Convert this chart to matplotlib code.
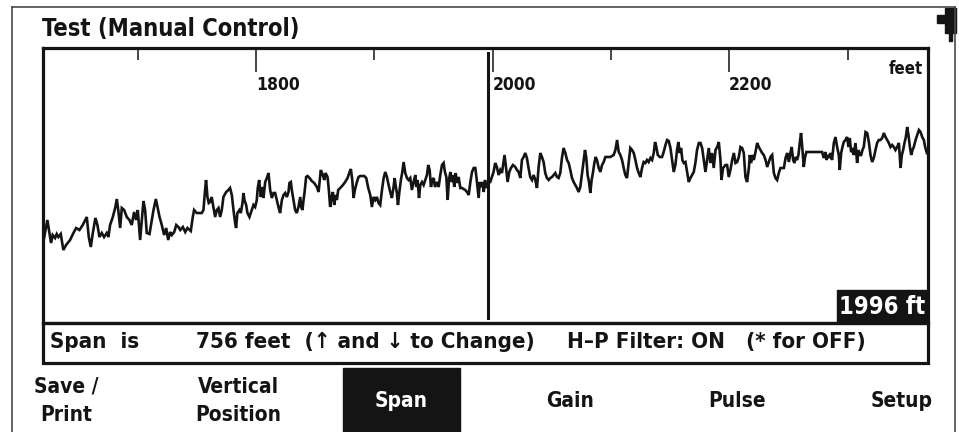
import matplotlib

matplotlib.use("Agg")
import matplotlib.pyplot as plt
from matplotlib import font_manager
from matplotlib.lines import Line2D
from matplotlib.patches import Polygon, Rectangle

W, H = 959, 432
INK = "#141414"

screen_title = "Test (Manual Control)"
major_ticks = [1800, 2000, 2200]
minor_ticks = [1700, 1900, 2100, 2300]
x_range = (1620, 2368)
y_range = (0, 275)
unit_label = "feet"
cursor_ft = 1996
cursor_label = "1996 ft"
status_parts = ["Span  is", "756 feet  (\u2191 and \u2193 to Change)", "H\u2013P Filter: ON   (* for OFF)"]
menu_labels = ["Save /\nPrint", "Vertical\nPosition", "Span", "Gain", "Pulse", "Setup"]
active_menu = "Span"

# trace: distance in feet, amplitude in screen units
trace_ft = [
    1620.9, 1623.7, 1625.4, 1626.8, 1628.2, 1630.2, 1631.6, 1633.0, 1635.0, 1636.1,
    1637.2, 1639.5, 1642.9, 1645.7, 1648.0, 1650.8, 1653.6, 1657.0, 1658.7, 1660.4,
    1662.1, 1664.3, 1666.0, 1667.7, 1669.7, 1671.6, 1673.9, 1675.3, 1676.7, 1679.0,
    1681.0, 1682.4, 1683.8, 1685.2, 1686.6, 1688.6, 1690.8, 1693.1, 1695.0, 1697.0,
    1698.7, 1700.1, 1702.1, 1703.5, 1704.9, 1706.3, 1707.7, 1710.0, 1712.0, 1713.4,
    1715.4, 1716.8, 1718.5, 1720.4, 1722.4, 1724.1, 1725.8, 1727.5, 1728.9, 1730.9,
    1732.6, 1734.5, 1736.0, 1738.2, 1740.2, 1742.1,
    1744.9, 1746.6, 1747.7, 1749.9, 1754.2, 1755.6, 1757.0, 1757.8, 1759.0, 1760.1,
    1761.2, 1762.6, 1764.0, 1765.5, 1766.9, 1768.3, 1769.7, 1771.1, 1772.5, 1774.8,
    1776.7, 1778.1, 1779.6, 1781.0, 1782.4, 1783.2, 1784.3, 1786.0, 1787.2, 1788.6,
    1789.4, 1790.3, 1791.7, 1792.8, 1794.5, 1796.5, 1797.9, 1799.3, 1800.7, 1801.5,
    1802.7, 1804.1, 1805.2, 1806.3, 1807.8, 1809.2, 1810.6, 1812.0, 1813.4, 1814.8,
    1816.2, 1817.6, 1819.0, 1820.4, 1821.9, 1823.3, 1824.7, 1826.1, 1827.5, 1828.3,
    1829.5, 1830.3, 1831.7, 1833.1, 1834.5, 1835.9, 1837.4, 1838.2, 1839.3, 1840.2,
    1841.0, 1842.4, 1843.6, 1845.3, 1847.2, 1849.2, 1851.5, 1852.9, 1853.7, 1854.8,
    1856.5, 1857.7, 1858.8, 1860.5, 1861.6, 1862.7, 1863.9, 1865.0, 1866.1, 1867.3,
    1868.4, 1869.5,
    1871.2, 1873.5, 1875.4, 1877.4, 1879.1, 1880.2, 1881.4, 1882.5, 1883.6, 1885.3,
    1886.7, 1888.1, 1891.5, 1893.2, 1894.9, 1896.6, 1898.0, 1899.4, 1900.8, 1902.2,
    1903.6, 1905.0, 1906.5, 1907.9, 1909.3, 1910.7, 1912.1, 1913.5, 1914.9, 1916.3,
    1917.2, 1918.0, 1919.1, 1920.0, 1921.4, 1922.5, 1923.7, 1924.8, 1926.2, 1927.6,
    1929.0, 1930.4, 1931.8, 1933.2, 1934.7, 1935.5, 1936.6, 1937.8, 1938.9, 1940.3,
    1941.7, 1943.1, 1944.5, 1945.6, 1946.8, 1947.9, 1949.0, 1950.2, 1951.3, 1953.0,
    1954.4, 1955.8, 1957.2, 1958.6, 1959.7, 1960.9, 1962.0, 1963.1, 1964.3, 1965.4,
    1966.5, 1967.6, 1968.8, 1969.9, 1971.3, 1972.7, 1974.1, 1976.9, 1978.4, 1979.8,
    1981.2, 1982.6, 1984.0, 1985.4, 1986.8, 1988.2, 1989.1, 1990.2, 1991.3, 1992.5,
    1993.6, 1994.7, 1996.4,
    1998.0, 1999.4, 2000.8, 2002.2, 2003.6, 2005.1, 2006.5, 2007.9, 2009.3, 2010.1,
    2011.3, 2012.7, 2014.1, 2015.5, 2017.2, 2019.2, 2020.6, 2022.0, 2023.4, 2024.8,
    2026.2, 2027.6, 2029.0, 2030.4, 2031.8, 2033.3, 2034.7, 2036.1, 2037.5, 2038.9,
    2040.3, 2041.7, 2043.1, 2044.5, 2045.9, 2047.4, 2048.8, 2050.2, 2051.6, 2053.0,
    2054.4, 2055.8, 2057.2, 2058.6, 2060.0, 2061.5, 2062.9, 2064.3, 2065.7, 2067.1,
    2068.5, 2069.9, 2071.3, 2072.7, 2074.1, 2075.6, 2077.0, 2078.1, 2079.2, 2080.3,
    2081.5, 2082.6, 2083.7, 2084.9, 2086.0, 2087.1, 2088.2, 2089.7, 2091.1, 2092.5,
    2093.9, 2095.3, 2096.7, 2099.5, 2102.3, 2103.8, 2105.2, 2106.6, 2108.0, 2109.4,
    2110.8, 2112.2, 2113.6, 2115.0, 2116.4, 2117.9, 2119.3, 2120.7, 2122.1, 2123.5,
    2124.9, 2126.3, 2127.7, 2129.1, 2130.5, 2131.9, 2133.4, 2134.8, 2136.2, 2137.3,
    2138.4, 2139.6, 2141.3, 2143.2, 2144.6, 2146.1, 2147.5, 2148.9, 2150.3, 2151.7,
    2153.1, 2154.5, 2155.9, 2157.0, 2158.2, 2159.3, 2160.4, 2161.6, 2163.0, 2164.4,
    2165.8, 2167.2, 2168.6, 2170.0, 2171.4, 2172.8, 2174.3, 2175.7, 2177.1, 2178.5,
    2179.9, 2181.3, 2182.7, 2184.1, 2185.5, 2186.9, 2188.4, 2189.8, 2191.2, 2192.6,
    2193.4, 2194.8, 2196.8, 2198.2, 2199.6, 2201.0, 2202.5, 2203.9, 2205.3, 2206.7,
    2208.1, 2209.5, 2210.9, 2212.3, 2213.7, 2215.1, 2216.6, 2217.4, 2218.5, 2219.7,
    2220.8, 2222.2, 2223.6, 2225.0, 2226.4, 2227.8, 2229.2, 2230.7, 2232.1, 2233.5,
    2234.9, 2236.3, 2237.7, 2239.1, 2240.5, 2241.9, 2243.3, 2246.2, 2247.6, 2249.0,
    2250.4,
    2251.7, 2252.8, 2254.0, 2255.1, 2256.2, 2257.3, 2258.5, 2259.6, 2260.7, 2261.9,
    2263.0, 2264.1, 2265.2, 2278.5, 2279.9, 2281.3, 2282.2, 2283.3, 2284.4, 2285.5,
    2286.9, 2288.4, 2289.8, 2291.2, 2292.6, 2293.4, 2294.6, 2295.7, 2296.8, 2298.2,
    2299.6, 2300.8, 2301.9, 2303.0, 2304.2, 2305.3, 2306.7, 2308.1, 2309.2, 2310.4,
    2311.5, 2312.6, 2313.7, 2315.2, 2316.6, 2318.0, 2319.4, 2320.8, 2322.2, 2323.6,
    2325.0, 2326.4, 2327.8, 2329.3, 2330.7, 2332.1, 2333.5, 2334.9, 2336.3, 2337.7,
    2339.1, 2340.5, 2341.9, 2343.4, 2344.8, 2345.9, 2347.0, 2348.1, 2349.3, 2350.4,
    2351.5, 2352.7, 2353.8, 2354.9, 2356.0, 2357.5, 2358.9, 2360.3, 2361.7, 2363.1,
    2364.5, 2365.6, 2366.8, 2367.9,
]
trace_amp = [
    85, 103, 90, 80, 88, 85, 89, 86, 89, 81, 73, 78, 83, 90, 95, 93, 98, 106, 86, 76,
    90, 105, 98, 86, 90, 86, 90, 86, 98, 106, 115, 124, 111, 95, 115, 113, 106, 103, 98, 111,
    103, 113, 83, 103, 122, 113, 90, 89, 103, 113, 124, 116, 106, 98, 88, 95, 83, 91, 88, 91,
    98, 96, 93, 96, 91, 95,
    92, 106, 113, 110, 110, 113, 133, 143, 126, 120, 121, 126, 116, 106, 113, 115, 106, 113, 126, 131,
    133, 135, 128, 113, 100, 95, 110, 113, 110, 120, 130, 123, 118, 110, 106, 113, 118, 116, 123, 135,
    143, 126, 136, 125, 141, 145, 150, 133, 125, 130, 130, 123, 116, 110, 123, 128, 130, 126, 131, 140,
    141, 133, 123, 113, 110, 116, 126, 116, 113, 123, 130, 146, 147, 145, 142, 140, 136, 131, 140, 153,
    148, 143, 150, 146, 133, 116, 126, 131, 118, 128, 123, 133,
    135, 138, 141, 145, 151, 154, 143, 125, 133, 141, 146, 147, 147, 145, 135, 128, 116, 126, 123, 126,
    120, 118, 133, 145, 151, 146, 138, 131, 125, 136, 145, 138, 130, 118, 133, 143, 151, 161, 150, 145,
    143, 145, 133, 141, 148, 136, 143, 125, 138, 141, 138, 143, 148, 158, 153, 136, 143, 145, 136, 141,
    136, 148, 158, 160, 151, 146, 123, 143, 151, 141, 148, 136, 150, 140, 146, 135, 135, 133, 131, 128,
    141, 151, 155, 155, 141, 125, 141, 136, 141, 131, 143, 135, 141,
    141, 146, 151, 160, 156, 148, 153, 150, 161, 168, 156, 141, 151, 155, 158, 156, 153, 151, 145, 163,
    166, 170, 165, 155, 146, 143, 148, 143, 135, 156, 170, 166, 161, 150, 145, 143, 145, 146, 148, 150,
    146, 145, 150, 165, 175, 170, 163, 160, 153, 145, 141, 138, 135, 131, 136, 150, 163, 173, 165, 148,
    141, 130, 143, 151, 160, 166, 163, 155, 151, 158, 161, 166, 166, 166, 168, 173, 183, 171, 168, 163,
    155, 148, 145, 160, 175, 173, 170, 163, 155, 150,
    146, 155, 161, 160, 163, 161, 165, 163, 170, 181, 176, 168, 166, 166, 171, 178, 183, 182, 175, 163,
    151, 158, 173, 181, 170, 175, 163, 160, 161, 151, 141, 145, 148, 151, 160, 173, 180, 180, 175, 163,
    151, 163, 175, 160, 170, 155, 173, 176, 181, 163, 143, 155, 158, 158, 146, 153, 163, 170, 160, 161,
    166, 176, 175, 170, 146, 141, 155, 168, 160, 168, 163, 171, 180, 176, 173, 170, 168, 163, 156, 161,
    166, 168, 150, 145, 143, 150, 155, 155, 165, 170, 161,
    170, 176, 163, 160, 166, 163, 168, 180, 190, 173, 156, 166, 171, 171, 165, 171, 163, 168, 165, 170,
    163, 180, 186, 176, 168, 153, 170, 176, 181, 183, 186, 176, 185, 171, 173, 168, 180, 160, 173, 168,
    168, 173, 176, 191, 190, 181, 168, 161, 165, 173, 180, 183, 183, 185, 190, 186, 183, 180, 176, 178,
    176, 173, 176, 180, 155, 168, 173, 180, 186, 196, 188, 176, 168, 173, 176, 183, 188, 193, 191, 186,
    183, 176, 171, 173,
]

_names = {f.name for f in font_manager.fontManager.ttflist}
if "Liberation Sans Narrow" in _names:
    FONT = {"family": ["Liberation Sans Narrow", "DejaVu Sans"], "weight": "bold"}
else:
    FONT = {"family": ["DejaVu Sans"], "weight": "bold", "stretch": "condensed"}


def fx(x):
    return x / W


def fy(y):
    return 1 - y / H


fig = plt.figure(figsize=(W / 100, H / 100), dpi=100)
fig.patch.set_facecolor("white")

# outer screen frame
for xs, ys in [((12, 12), (432, 7)), ((12, 955), (7, 7)), ((955, 955), (7, 432))]:
    fig.add_artist(Line2D([fx(v) for v in xs], [fy(v) for v in ys], color="#4a4a4a", lw=1.2))

# plug icon, top right
icon = [(937, 15), (945, 15), (945, 8), (956, 8), (956, 33), (952, 33), (952, 41),
        (949, 41), (949, 33), (945, 33), (945, 23), (937, 23)]
fig.add_artist(Polygon([(fx(x), fy(y)) for x, y in icon], closed=True, color=INK,
                       transform=fig.transFigure))

fig.text(fx(42), fy(29), screen_title, ha="left", va="center", fontsize=17, color=INK, **FONT)

ax = fig.add_axes([fx(43), fy(323), (928 - 43) / W, (323 - 48) / H])
ax.set_xlim(*x_range)
ax.set_ylim(*y_range)
for sp in ax.spines.values():
    sp.set_linewidth(2.3)
    sp.set_color(INK)
ax.set_yticks([])
ax.set_xticks(major_ticks)
ax.set_xticks(minor_ticks, minor=True)
ax.tick_params(axis="x", which="both", direction="in", top=True, bottom=False,
               labeltop=False, labelbottom=False, width=1.1, color=INK)
ax.tick_params(axis="x", which="major", length=17)
ax.tick_params(axis="x", which="minor", length=8.5)

xt = ax.get_xaxis_transform()
for t in major_ticks:
    ax.text(t, 0.866, str(t), transform=xt, ha="left", va="center", fontsize=12.5, color=INK, **FONT)
ax.text(0.994, 0.922, unit_label, transform=ax.transAxes, ha="right", va="center",
        fontsize=12, color=INK, **FONT)

ax.plot(trace_ft, trace_amp, color=INK, lw=1.9, solid_joinstyle="miter")
ax.axvline(cursor_ft, ymin=0.018, ymax=0.982, color=INK, lw=2.2)

ax.add_patch(Rectangle((0.897, 0), 0.103, 0.12, transform=ax.transAxes, color=INK,
                       zorder=5, clip_on=False))
ax.text(0.9485, 0.058, cursor_label, transform=ax.transAxes, ha="center", va="center",
        fontsize=17, color="white", zorder=6, **FONT)

# status line
fig.add_artist(Rectangle((fx(43), fy(363)), 885 / W, 40 / H, fill=False, edgecolor=INK,
                         lw=2.3, transform=fig.transFigure))
for x, txt in zip([50, 196, 567], status_parts):
    fig.text(fx(x), fy(342), txt, ha="left", va="center", fontsize=16, color=INK, **FONT)

# soft-key menu
menu_x = [66, 238, 401, 570, 737, 902]
for x, label in zip(menu_x, menu_labels):
    color = INK
    if label == active_menu:
        fig.add_artist(Rectangle((fx(343), 0), 117 / W, (432 - 368) / H, color=INK,
                                 transform=fig.transFigure))
        color = "white"
    fig.text(fx(x), fy(401), label, ha="center", va="center", fontsize=15, color=color,
             linespacing=1.5, **FONT)

fig.savefig("out.png", dpi=100)
